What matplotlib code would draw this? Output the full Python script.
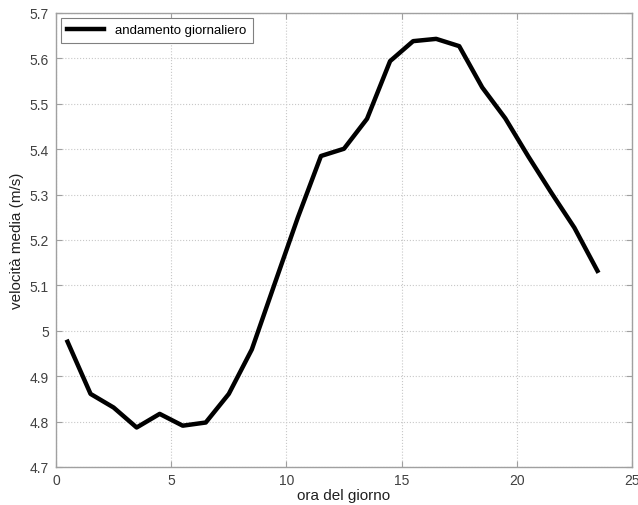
import matplotlib
matplotlib.use("Agg")
import matplotlib.pyplot as plt
from matplotlib.ticker import FuncFormatter

hours = [0.5, 1.5, 2.5, 3.5, 4.5, 5.5, 6.5, 7.5, 8.5, 9.5, 10.5, 11.5,
         12.5, 13.5, 14.5, 15.5, 16.5, 17.5, 18.5, 19.5, 20.5, 21.5, 22.5, 23.5]
speed = [4.976, 4.861, 4.831, 4.787, 4.817, 4.791, 4.798, 4.861, 4.959, 5.105,
         5.250, 5.385, 5.401, 5.467, 5.594, 5.638, 5.643, 5.627, 5.536, 5.468,
         5.384, 5.304, 5.227, 5.132]
xticks = [0, 5, 10, 15, 20, 25]
yticks = [4.7, 4.8, 4.9, 5.0, 5.1, 5.2, 5.3, 5.4, 5.5, 5.6, 5.7]

plt.rcParams['font.family'] = ['Liberation Sans', 'DejaVu Sans']

fig = plt.figure(figsize=(6.38, 5.06), dpi=100)
ax = fig.add_axes([56/638, 38/506, 576/638, 454/506])

ax.plot(hours, speed, color='black', linewidth=3.2, label='andamento giornaliero')
ax.set_xlim(0, 25)
ax.set_ylim(4.7, 5.7)
ax.set_xticks(xticks)
ax.set_yticks(yticks)
ax.yaxis.set_major_formatter(FuncFormatter(lambda v, p: f"{v:g}"))
ax.grid(True, color='#c8c8c8', linestyle=':', linewidth=0.8)
for s in ax.spines.values():
    s.set_color('#a0a0a0')
    s.set_linewidth(1.0)
ax.tick_params(direction='in', top=True, right=True, length=4, color='#a0a0a0',
               labelsize=10, labelcolor='#404040')
ax.tick_params(axis='x', pad=4)
ax.tick_params(axis='y', pad=5)
ax.set_xlabel('ora del giorno', fontsize=11, color='#202020', labelpad=1)
ax.set_ylabel('velocità media (m/s)', fontsize=11, color='#202020', labelpad=4)
leg = ax.legend(loc='upper left', fontsize=9.5, fancybox=False, framealpha=1,
                edgecolor='#808080', handlelength=2.8, borderpad=0.5,
                borderaxespad=0.35)
leg.get_frame().set_linewidth(0.8)
fig.savefig('out.png', dpi=100)
